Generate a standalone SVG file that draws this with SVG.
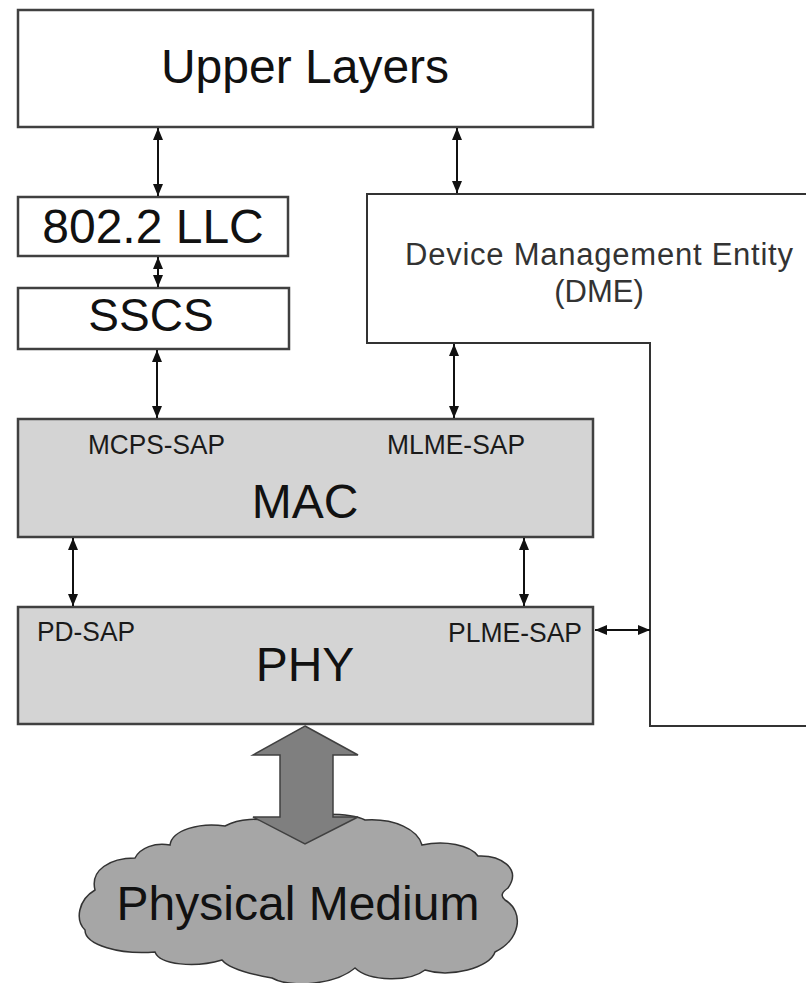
<svg xmlns="http://www.w3.org/2000/svg" width="806" height="983" viewBox="0 0 806 983">
<defs>
<style>
.box{stroke:#404040;stroke-width:2.5}
.white{fill:#ffffff}
.gray{fill:#d4d4d4}
.big{font-family:"Liberation Sans",Arial,sans-serif;font-size:48px;fill:#111;text-anchor:middle}
.sap{font-family:"Liberation Sans",Arial,sans-serif;font-size:28px;fill:#1a1a1a}
.dme{font-family:"Liberation Sans",Arial,sans-serif;font-size:31px;fill:#333}
.conn{stroke:#111;stroke-width:2;fill:none;marker-start:url(#ah);marker-end:url(#ah)}
</style>
<marker id="ah" viewBox="0 0 12 10" refX="12" refY="5" markerWidth="12" markerHeight="10" markerUnits="userSpaceOnUse" orient="auto-start-reverse">
<path d="M0,0 L12,5 L0,10 z" fill="#111"/>
</marker>
</defs>
<rect width="806" height="983" fill="#ffffff"/>

<g id="upper-layers">
<rect class="box white" x="18" y="10" width="575" height="117"/>
<text class="big" x="305" y="83">Upper Layers</text>
</g>

<g id="llc">
<rect class="box white" x="18" y="197" width="270" height="59"/>
<text class="big" x="153" y="243">802.2 LLC</text>
</g>

<g id="sscs">
<rect class="box white" x="18" y="288" width="271" height="61"/>
<text class="big" x="151" y="331" style="font-size:46px">SSCS</text>
</g>

<g id="dme">
<polyline points="808,194 367,194 367,343 650,343 650,726 808,726" fill="none" stroke="#333" stroke-width="2"/>
<text class="dme" x="405" y="265" textLength="388" lengthAdjust="spacing">Device Management Entity</text>
<text class="dme" x="599" y="302" text-anchor="middle">(DME)</text>
</g>

<g id="mac">
<rect class="box gray" x="18" y="419" width="575" height="118"/>
<text class="sap" x="88" y="454" textLength="137" lengthAdjust="spacingAndGlyphs">MCPS-SAP</text>
<text class="sap" x="387" y="454" textLength="138" lengthAdjust="spacingAndGlyphs">MLME-SAP</text>
<text class="big" x="305" y="518">MAC</text>
</g>

<g id="phy">
<rect class="box gray" x="18" y="607" width="575" height="117"/>
<text class="sap" x="37" y="641" textLength="98" lengthAdjust="spacingAndGlyphs">PD-SAP</text>
<text class="sap" x="448" y="642" textLength="134" lengthAdjust="spacingAndGlyphs">PLME-SAP</text>
<text class="big" x="305" y="681">PHY</text>
</g>

<g id="physical-medium">
<path d="M170,845 C172,830 200,822 225,826 C240,818 260,818 270,822 C300,812 350,812 365,820 C395,818 418,830 422,845 C445,840 470,845 478,856 C500,855 522,868 508,888 C502,892 500,896 505,900 C525,912 520,940 495,952 C490,968 450,978 425,970 C410,982 370,982 355,968 C335,985 290,988 272,978 C255,975 230,970 222,960 C195,968 160,965 155,952 C120,955 85,945 85,930 C75,920 78,900 95,890 C90,870 110,858 135,858 C140,848 155,842 170,845 Z" fill="#a6a6a6" stroke="#333" stroke-width="1.5"/>
<text class="big" x="298" y="920">Physical Medium</text>
</g>

<g id="connectors">
<line class="conn" x1="158" y1="128" x2="158" y2="196"/>
<line class="conn" x1="457" y1="128" x2="457" y2="193"/>
<line class="conn" x1="158" y1="257" x2="158" y2="287"/>
<line class="conn" x1="157" y1="350" x2="157" y2="418"/>
<line class="conn" x1="454" y1="344" x2="454" y2="418"/>
<line class="conn" x1="73" y1="538" x2="73" y2="606"/>
<line class="conn" x1="524" y1="538" x2="524" y2="606"/>
<line class="conn" x1="595" y1="630" x2="650" y2="630"/>
<polygon points="305,726 358,755 333,755 333,817 358,817 305,844 253,817 280,817 280,755 253,755" fill="#7f7f7f" stroke="#404040" stroke-width="1.5"/>
</g>
</svg>
